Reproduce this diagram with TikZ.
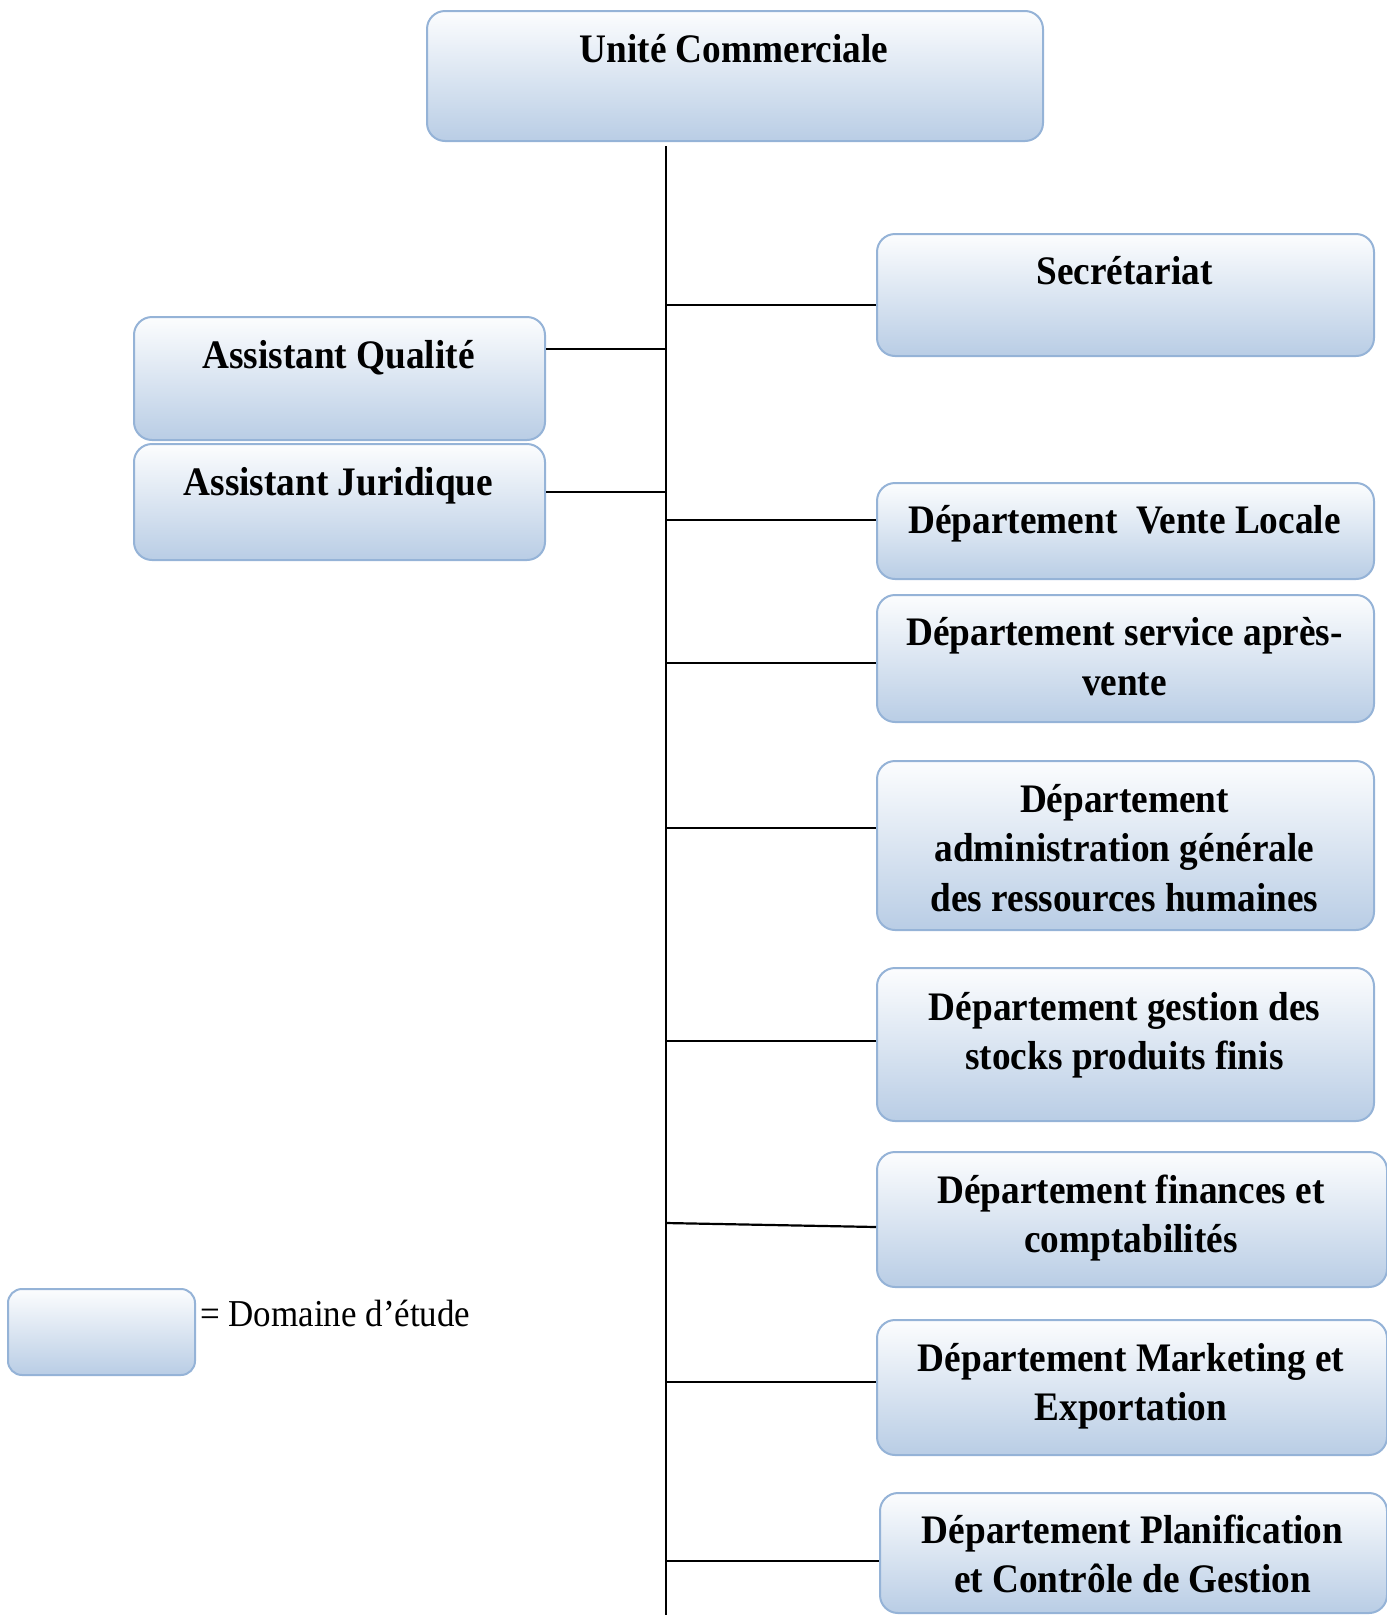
\documentclass[tikz,border=0pt]{standalone}
\usepackage{fontspec}
\setmainfont{Liberation Serif}[FakeStretch=0.92]
\definecolor{boxline}{RGB}{149,179,215}
\definecolor{boxlow}{RGB}{185,205,229}
\definecolor{boxhigh}{RGB}{252,253,254}
\tikzset{
  unitbox/.style={draw=boxline, line width=2pt, rounded corners=18pt,
    top color=boxhigh, bottom color=boxlow, inner sep=0pt, anchor=north west},
  % the base anchor of a multi-line text is the baseline of its last line
  boxtext/.style={font=\fontsize{40.5}{49.5}\selectfont\bfseries, align=center,
    anchor=base, inner sep=0pt},
  link/.style={line width=2.2pt, black}
}
\begin{document}
\begin{tikzpicture}[x=1pt, y=-1pt]
\useasboundingbox (0,0) rectangle (1387,1615);

% boxes
\node[unitbox, minimum width=616pt, minimum height=130pt] (uc)  at (426,10) {};
\node[unitbox, minimum width=497pt, minimum height=122pt] (sec) at (876,233) {};
\node[unitbox, minimum width=411pt, minimum height=123pt] (aq)  at (133,316) {};
\node[unitbox, minimum width=411pt, minimum height=116pt] (aj)  at (133,443) {};
\node[unitbox, minimum width=497pt, minimum height=96pt]  (vl)  at (876,482) {};
\node[unitbox, minimum width=497pt, minimum height=127pt] (sav) at (876,594) {};
\node[unitbox, minimum width=497pt, minimum height=169pt] (adm) at (876,760) {};
\node[unitbox, minimum width=497pt, minimum height=153pt] (stk) at (876,967) {};
\node[unitbox, minimum width=510pt, minimum height=135pt] (fin) at (876,1151) {};
\node[unitbox, minimum width=510pt, minimum height=135pt] (mkt) at (876,1319) {};
\node[unitbox, minimum width=507pt, minimum height=120pt] (pln) at (879,1492) {};
\node[unitbox, rounded corners=14pt, minimum width=187pt, minimum height=86pt] (leg) at (7,1288) {};

% texts
\node[boxtext] (tuc)  at (734,62)   {Unité Commerciale};
\node[boxtext] (tsec) at (1124.5,284) {Secrétariat};
\node[boxtext] (taq)  at (338.5,368) {Assistant Qualité};
\node[boxtext] (taj)  at (338.5,495) {Assistant Juridique};
\node[boxtext] (tvl)  at (1124.5,533) {Département\ \ Vente Locale};
\node[boxtext] (tsav) at (1124.5,695) {Département service après-\\vente};
\node[boxtext] (tadm) at (1124.5,911) {Département\\administration générale\\des ressources humaines};
\node[boxtext] (tstk) at (1124.5,1069.5) {Département gestion des\\stocks produits finis};
\node[boxtext] (tfin) at (1131,1252.5) {Département finances et\\comptabilités};
\node[boxtext] (tmkt) at (1131,1420.5) {Département Marketing et\\Exportation};
\node[boxtext] (tpln) at (1132.5,1592.5) {Département Planification\\et Contrôle de Gestion};
\node[font=\fontsize{38}{46}\selectfont, anchor=base west, inner sep=0pt] (tleg) at (200,1326) {= Domaine d’étude};

% spine
\coordinate (spinetop) at (666,146);
\coordinate (spinebot) at (666,1615);
\draw[link] (spinetop) -- (spinebot);

% branch points on the spine
\coordinate (paq)  at (666,349);
\coordinate (paj)  at (666,492);
\coordinate (psec) at (666,305);
\coordinate (pvl)  at (666,520);
\coordinate (psav) at (666,663);
\coordinate (padm) at (666,828);
\coordinate (pstk) at (666,1041);
\coordinate (pfin) at (666,1223);
\coordinate (efin) at (876,1227);
\coordinate (pmkt) at (666,1382);
\coordinate (ppln) at (666,1561);

\draw[link] (aq.east |- paq) -- (paq);
\draw[link] (aj.east |- paj) -- (paj);
\draw[link] (psec) -- (psec -| sec.west);
\draw[link] (pvl)  -- (pvl -| vl.west);
\draw[link] (psav) -- (psav -| sav.west);
\draw[link] (padm) -- (padm -| adm.west);
\draw[link] (pstk) -- (pstk -| stk.west);
\draw[link] (pfin) -- (efin);
\draw[link] (pmkt) -- (pmkt -| mkt.west);
\draw[link] (ppln) -- (ppln -| pln.west);
\end{tikzpicture}
\end{document}
